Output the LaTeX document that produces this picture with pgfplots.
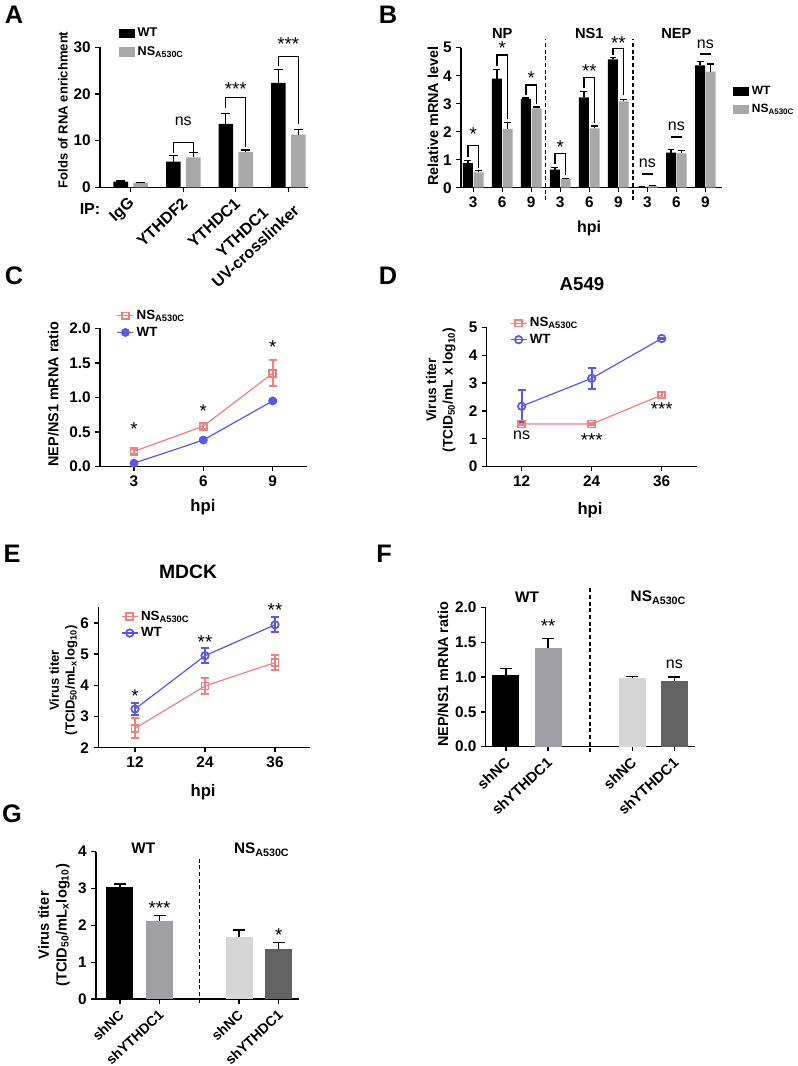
\documentclass[border=0pt]{standalone}
\usepackage{fontspec}
\setmainfont{Liberation Sans}
\usepackage{pgfplots}
\pgfplotsset{compat=1.18}
\definecolor{cbar}{RGB}{168,168,168}
\definecolor{cred}{RGB}{240,128,128}
\definecolor{cblue}{RGB}{88,88,238}
\definecolor{fgray}{RGB}{160,160,164}
\definecolor{flight}{RGB}{214,214,214}
\definecolor{fdark}{RGB}{98,98,98}
\newcommand{\fs}[1]{\fontsize{#1}{\dimexpr #1pt*6/5\relax}\selectfont}
\tikzset{sig/.style={font=\fs{14}\mdseries, inner sep=0pt},
         nsl/.style={font=\fs{12}\mdseries, inner sep=0pt}}
\pgfplotsset{
 gp/.style={
  scale only axis, anchor=south west,
  axis x line*=bottom, axis y line*=left,
  axis line style={line width=1pt, black},
  tick style={line width=1pt, black},
  major tick length=3.5pt,
  tick align=outside,
  ticklabel style={font=\fs{11.5}\bfseries},
  /pgf/number format/assume math mode=true,
  clip=false,
  label style={font=\fs{10.5}\bfseries},
  legend cell align=left,
 },
 bbar/.style={ybar, draw=none, bar width=#1, bar shift=0pt,
  error bars/y dir=plus, error bars/y explicit,
  error bars/error bar style={line width=1pt,black},
  error bars/error mark options={rotate=90, mark size=3.5pt, line width=1pt, black}},
 sqleg/.style={legend image code/.code={\fill[##1] (0pt,-3.5pt) rectangle (12pt,3.5pt);}},
 lnleg/.style={legend image code/.code={\draw[mark repeat=2, mark phase=2, ##1] plot coordinates {(0pt,0pt) (6pt,0pt) (12pt,0pt)};}},
 nsline/.style={color=cred, line width=0.9pt, mark=square, mark size=2.6pt,
  mark options={line width=1.3pt, fill=white, solid},
  error bars/y dir=both, error bars/y explicit,
  error bars/error bar style={line width=1.4pt, cred},
  error bars/error mark options={rotate=90, mark size=3pt, line width=1.4pt, cred}, lnleg},
 wtline/.style={color=cblue, line width=0.9pt, mark=o, mark size=2.8pt,
  mark options={line width=1.3pt, fill=white, solid},
  error bars/y dir=both, error bars/y explicit,
  error bars/error bar style={line width=1.4pt, cblue},
  error bars/error mark options={rotate=90, mark size=3pt, line width=1.4pt, cblue}, lnleg},
 rotlab/.style={xticklabel style={yshift=-6pt, xshift=2pt, rotate=43, anchor=east, inner sep=1pt, font=\fs{#1}\bfseries}},
}
\begin{document}
\begin{tikzpicture}
\useasboundingbox (0,0) rectangle (597.75pt,-799.5pt);

% ---------------- A
\begin{axis}[gp, at={(75pt,-140.5pt)}, width=156pt, height=105pt,
 xmin=-0.585, xmax=3.375, ymin=0, ymax=30, ytick={0,10,20,30},
 xtick={0,1,2,3}, xticklabels={IgG,YTHDF2,YTHDC1,{YTHDC1\\UV-crosslinker}},
 rotlab=12, xticklabel style={align=center},
 ylabel={Folds of RNA enrichment},
 ylabel style={at={(axis description cs:-0.178,0.552)}, anchor=center, font=\fs{9.8}\bfseries},
 legend style={at={(axis description cs:0.09,1.16)}, anchor=north west, draw=none, fill=none,
  font=\fs{9.5}\bfseries, row sep=2pt, inner sep=0pt}]
\addplot[bbar=10.9pt, fill=black, sqleg] coordinates {(-0.19,1.2) +- (0,0.15) (0.81,5.5) +- (0,1.3) (1.81,13.6) +- (0,2.2) (2.81,22.4) +- (0,2.9)};
\addlegendentry{WT}
\addplot[bbar=10.9pt, fill=cbar, sqleg] coordinates {(0.19,0.95) +- (0,0.15) (1.19,6.4) +- (0,1.0) (2.19,7.6) +- (0,0.4) (3.19,11.3) +- (0,1.1)};
\addlegendentry{NS\textsubscript{A530C}}
\draw[line width=1pt] (axis cs:0.81,7.4) |- (axis cs:1.19,9.6) -- (axis cs:1.19,7.6);
\draw[line width=1pt] (axis cs:1.81,17.1) |- (axis cs:2.19,19.2) -- (axis cs:2.19,8.7);
\draw[line width=1pt] (axis cs:2.81,26.1) |- (axis cs:3.19,28.1) -- (axis cs:3.19,13.6);
\node[nsl] at (axis cs:1,14.1) {ns};
\node[sig] at (axis cs:2,21.0) {***};
\node[sig] at (axis cs:3,30.6) {***};
\end{axis}

% ---------------- B
\begin{axis}[gp, at={(345.75pt,-140.8pt)}, width=196.1pt, height=105pt,
 xmin=-0.42, xmax=8.59, ymin=0, ymax=5, ytick={0,1,2,3,4,5},
 xtick={0,1,2,3,4,5,6,7,8}, xticklabels={3,6,9,3,6,9,3,6,9},
 xlabel={hpi}, xlabel style={at={(axis description cs:0.49,-0.288)}, anchor=center, font=\fs{12}\bfseries},
 ylabel={Relative mRNA level},
 ylabel style={at={(axis description cs:-0.107,0.51)}, anchor=center, font=\fs{10.8}\bfseries},
 legend style={at={(axis description cs:1.04,0.623)}, anchor=west, draw=none, fill=none,
  font=\fs{9}\bfseries, row sep=2pt, inner sep=0pt}]
\addplot[bbar=7.5pt, fill=black, sqleg, error bars/error mark options={rotate=90, mark size=2.6pt, line width=1pt, black}] coordinates {(-0.183,0.88) +- (0,0.09) (0.817,3.9) +- (0,0.32) (1.817,3.17) +- (0,0.04) (2.817,0.65) +- (0,0.08) (3.817,3.23) +- (0,0.2) (4.817,4.58) +- (0,0.07) (5.817,0.03) +- (0,0.02) (6.817,1.25) +- (0,0.12) (7.817,4.37) +- (0,0.15)};
\addlegendentry{WT}
\addplot[bbar=7.5pt, fill=cbar, sqleg, error bars/error mark options={rotate=90, mark size=2.6pt, line width=1pt, black}] coordinates {(0.183,0.55) +- (0,0.06) (1.183,2.1) +- (0,0.22) (2.183,2.83) +- (0,0.05) (3.183,0.31) +- (0,0.03) (4.183,2.12) +- (0,0.08) (5.183,3.08) +- (0,0.08) (6.183,0.06) +- (0,0.02) (7.183,1.23) +- (0,0.1) (8.183,4.15) +- (0,0.27)};
\addlegendentry{NS\textsubscript{A530C}}
\draw[line width=1pt] (axis cs:-0.183,1.08) |- (axis cs:0.183,1.5) -- (axis cs:0.183,0.72);
\draw[line width=1pt] (axis cs:0.817,4.35) |- (axis cs:1.183,4.74) -- (axis cs:1.183,2.45);
\draw[line width=1pt] (axis cs:1.817,3.3) |- (axis cs:2.183,3.67) -- (axis cs:2.183,3.0);
\draw[line width=1pt] (axis cs:2.817,0.85) |- (axis cs:3.183,1.23) -- (axis cs:3.183,0.45);
\draw[line width=1pt] (axis cs:3.817,3.55) |- (axis cs:4.183,3.93) -- (axis cs:4.183,2.3);
\draw[line width=1pt] (axis cs:4.817,4.75) |- (axis cs:5.183,4.98) -- (axis cs:5.183,3.3);
\draw[line width=1.6pt] (axis cs:5.817,0.5) -- (axis cs:6.183,0.5);
\draw[line width=1.6pt] (axis cs:6.817,1.82) -- (axis cs:7.183,1.82);
\draw[line width=1.6pt] (axis cs:7.817,4.77) -- (axis cs:8.183,4.77);
\node[sig] at (axis cs:0,1.9) {*};
\node[sig] at (axis cs:1,5.0) {*};
\node[sig] at (axis cs:2,3.9) {*};
\node[sig] at (axis cs:3,1.45) {*};
\node[sig] at (axis cs:4,4.17) {**};
\node[sig] at (axis cs:5,5.17) {**};
\node[nsl] at (axis cs:6,0.87) {ns};
\node[nsl] at (axis cs:7,2.2) {ns};
\node[nsl] at (axis cs:8,5.13) {ns};
\node[font=\fs{11}\bfseries] at (axis cs:1,5.5) {NP};
\node[font=\fs{11}\bfseries] at (axis cs:4,5.5) {NS1};
\node[font=\fs{11}\bfseries] at (axis cs:7,5.5) {NEP};
\draw[line width=1.1pt, dash pattern=on 3pt off 2pt] (axis cs:2.5,-0.45) -- (axis cs:2.5,5.3);
\draw[line width=1.1pt, dash pattern=on 3pt off 2pt] (axis cs:5.5,-0.45) -- (axis cs:5.5,5.3);
\end{axis}

% ---------------- C
\begin{axis}[gp, at={(75pt,-350pt)}, width=155pt, height=103.8pt,
 xmin=1.53, xmax=10.47, ymin=0, ymax=2, ytick={0,0.5,1,1.5,2},
 yticklabel style={/pgf/number format/.cd, fixed, fixed zerofill, precision=1},
 xtick={3,6,9},
 xlabel={hpi}, xlabel style={at={(axis description cs:0.498,-0.291)}, anchor=center, font=\fs{12.5}\bfseries},
 ylabel={NEP/NS1 mRNA ratio},
 ylabel style={at={(axis description cs:-0.226,0.525)}, anchor=center, font=\fs{10.8}\bfseries},
 legend style={at={(axis description cs:0.08,1.03)}, anchor=west, draw=none, fill=none,
  font=\fs{10}\bfseries, row sep=0pt, inner sep=0pt}]
\addplot[nsline] coordinates {(3,0.22) +- (0,0.03) (6,0.585) +- (0,0.04) (9,1.35) +- (0,0.19)};
\addlegendentry{NS\textsubscript{A530C}}
\addplot[wtline, mark=*, mark options={line width=1pt, fill=cblue, solid}] coordinates {(3,0.05) +- (0,0.01) (6,0.385) +- (0,0.02) (9,0.95) +- (0,0.02)};
\addlegendentry{WT}
\node[sig] at (axis cs:3,0.55) {*};
\node[sig] at (axis cs:6,0.81) {*};
\node[sig] at (axis cs:9,1.73) {*};
\end{axis}

% ---------------- D
\begin{axis}[gp, at={(365pt,-350pt)}, width=157.5pt, height=104.5pt,
 xmin=6, xmax=42, ymin=0, ymax=5, ytick={0,1,2,3,4,5}, xtick={12,24,36},
 xlabel={hpi}, xlabel style={at={(axis description cs:0.492,-0.31)}, anchor=center, font=\fs{12.5}\bfseries},
 ylabel={Virus titer\\(TCID\textsubscript{50}/mL x log\textsubscript{10})},
 ylabel style={at={(axis description cs:-0.218,0.55)}, anchor=center, align=center, font=\fs{10.3}\bfseries},
 title={A549}, title style={at={(axis description cs:0.454,1.253)}, anchor=center, font=\fs{14}\bfseries},
 legend style={at={(axis description cs:0.11,0.971)}, anchor=west, draw=none, fill=none,
  font=\fs{10}\bfseries, row sep=0pt, inner sep=0pt}]
\addplot[nsline] coordinates {(12,1.53) +- (0,0.03) (24,1.53) +- (0,0.03) (36,2.57) +- (0,0.1)};
\addlegendentry{NS\textsubscript{A530C}}
\addplot[wtline] coordinates {(12,2.17) +- (0,0.58) (24,3.17) +- (0,0.38) (36,4.6) +- (0,0.02)};
\addlegendentry{WT}
\node[nsl] at (axis cs:12,1.12) {ns};
\node[sig] at (axis cs:24,0.95) {***};
\node[sig] at (axis cs:36,2.05) {***};
\end{axis}

% ---------------- E
\begin{axis}[gp, at={(73.7pt,-560.8pt)}, width=158.8pt, height=105.3pt,
 xmin=5.7, xmax=42, ymin=2, ymax=6.5, ytick={2,3,4,5,6}, xtick={12,24,36},
 xlabel={hpi}, xlabel style={at={(axis description cs:0.495,-0.316)}, anchor=center, font=\fs{12.5}\bfseries},
 ylabel={Virus titer\\(TCID\textsubscript{50}/mL\textsubscript{x}log\textsubscript{10})},
 ylabel style={at={(axis description cs:-0.165,0.48)}, anchor=center, align=center, font=\fs{9.8}\bfseries},
 title={MDCK}, title style={at={(axis description cs:0.424,1.194)}, anchor=center, font=\fs{14.5}\bfseries},
 legend style={at={(axis description cs:0.107,0.876)}, anchor=west, draw=none, fill=none,
  font=\fs{10}\bfseries, row sep=0pt, inner sep=0pt}]
\addplot[nsline] coordinates {(12,2.62) +- (0,0.32) (24,3.98) +- (0,0.25) (36,4.73) +- (0,0.24)};
\addlegendentry{NS\textsubscript{A530C}}
\addplot[wtline] coordinates {(12,3.24) +- (0,0.2) (24,4.95) +- (0,0.24) (36,5.94) +- (0,0.24)};
\addlegendentry{WT}
\node[sig] at (axis cs:12,3.65) {*};
\node[sig] at (axis cs:24,5.4) {**};
\node[sig] at (axis cs:36,6.4) {**};
\end{axis}

% ---------------- F
\begin{axis}[gp, at={(364.3pt,-560pt)}, width=157pt, height=104.5pt,
 xmin=-0.48, xmax=4.49, ymin=0, ymax=2, ytick={0,0.5,1,1.5,2},
 yticklabel style={/pgf/number format/.cd, fixed, fixed zerofill, precision=1},
 xtick={0,1,3,4}, xticklabels={shNC,shYTHDC1,shNC,shYTHDC1}, rotlab=11,
 ylabel={NEP/NS1 mRNA ratio},
 ylabel style={at={(axis description cs:-0.204,0.52)}, anchor=center, font=\fs{10.8}\bfseries}]
\addplot[bbar=20.25pt, fill=black, error bars/error mark options={rotate=90, mark size=4.5pt, line width=1pt, black}] coordinates {(0,1.03) +- (0,0.09)};
\addplot[bbar=20.25pt, fill=fgray, error bars/error mark options={rotate=90, mark size=4.5pt, line width=1pt, black}] coordinates {(1,1.42) +- (0,0.13)};
\addplot[bbar=20.25pt, fill=flight, error bars/error mark options={rotate=90, mark size=4.5pt, line width=1pt, black}] coordinates {(3,0.98) +- (0,0.03)};
\addplot[bbar=20.25pt, fill=fdark, error bars/error mark options={rotate=90, mark size=4.5pt, line width=1pt, black}] coordinates {(4,0.94) +- (0,0.06)};
\node[sig] at (axis cs:1,1.73) {**};
\node[nsl] at (axis cs:4,1.18) {ns};
\node[font=\fs{11.5}\bfseries] at (axis cs:0.5,2.14) {WT};
\node[font=\fs{11.5}\bfseries] at (axis cs:3.62,2.14) {NS\textsubscript{A530C}};
\draw[line width=1.1pt, dash pattern=on 3pt off 2pt] (axis cs:2,-0.08) -- (axis cs:2,2.3);
\end{axis}

% ---------------- G
\begin{axis}[gp, at={(72pt,-749.25pt)}, width=152.3pt, height=110.5pt,
 xmin=-0.6, xmax=4.51, ymin=0, ymax=4, ytick={0,1,2,3,4},
 xtick={0,1,3,4}, xticklabels={shNC,shYTHDC1,shNC,shYTHDC1}, rotlab=10.5,
 ylabel={Virus titer\\(TCID\textsubscript{50}/mL\textsubscript{x}log\textsubscript{10})},
 ylabel style={at={(axis description cs:-0.207,0.5)}, anchor=center, align=center, font=\fs{11}\bfseries}]
\addplot[bbar=20.25pt, fill=black, error bars/error mark options={rotate=90, mark size=4.5pt, line width=1pt, black}] coordinates {(0,3.05) +- (0,0.07)};
\addplot[bbar=20.25pt, fill=fgray, error bars/error mark options={rotate=90, mark size=4.5pt, line width=1pt, black}] coordinates {(1,2.13) +- (0,0.13)};
\addplot[bbar=20.25pt, fill=flight, error bars/error mark options={rotate=90, mark size=4.5pt, line width=1pt, black}] coordinates {(3,1.69) +- (0,0.18)};
\addplot[bbar=20.25pt, fill=fdark, error bars/error mark options={rotate=90, mark size=4.5pt, line width=1pt, black}] coordinates {(4,1.35) +- (0,0.18)};
\node[sig] at (axis cs:1,2.47) {***};
\node[sig] at (axis cs:4,1.73) {*};
\node[font=\fs{11.5}\bfseries] at (axis cs:0.59,4.09) {WT};
\node[font=\fs{11.5}\bfseries] at (axis cs:3.57,4.05) {NS\textsubscript{A530C}};
\draw[line width=1.1pt, dash pattern=on 3pt off 2pt] (axis cs:2,-0.1) -- (axis cs:2,3.88);
\end{axis}

% ---------------- panel letters and extra text
\begin{scope}[x=0.75pt, y=-0.75pt, every node/.style={font=\fs{19}\bfseries}]
\node at (14,15) {A};
\node at (388,15) {B};
\node at (14,276) {C};
\node at (388,276) {D};
\node at (12,554) {E};
\node at (384,554) {F};
\node at (12,814) {G};
\node[font=\fs{12}\bfseries] at (90,209) {IP:};
\end{scope}
\end{tikzpicture}
\end{document}
